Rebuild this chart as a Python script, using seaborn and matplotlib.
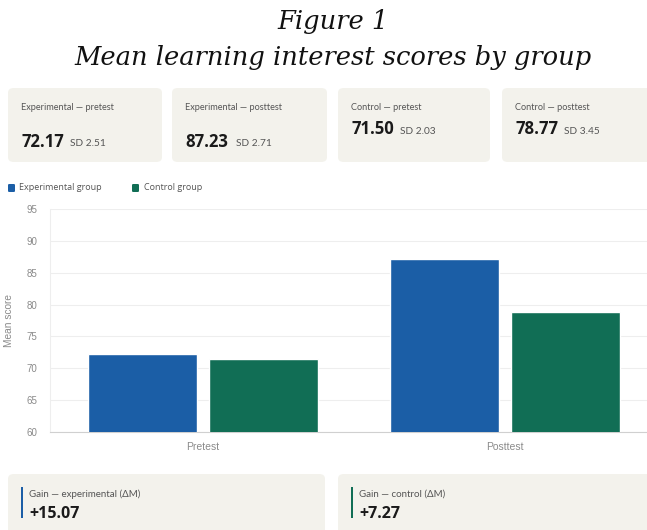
import matplotlib
matplotlib.use("Agg")
import matplotlib.pyplot as plt
from matplotlib.patches import FancyBboxPatch, Rectangle
import seaborn as sns
import pandas as pd

# ---- data ----
phases = ["Pretest", "Posttest"]
groups = ["Experimental group", "Control group"]
experimental_means = [72.17, 87.23]
control_means = [71.50, 78.77]
experimental_sd = [2.51, 2.71]
control_sd = [2.03, 3.45]
card_labels = ["Experimental — pretest", "Experimental — posttest",
               "Control — pretest", "Control — posttest"]
gain_labels = ["Gain — experimental (ΔM)", "Gain — control (ΔM)"]
gain_values = ["+15.07", "+7.27"]
y_ticks = [60, 65, 70, 75, 80, 85, 90, 95]

BLUE = "#1b5ea6"
GREEN = "#116e55"
CARD = "#f3f2ec"

sns.set_theme(style="white")
plt.rcParams["font.family"] = ["Open Sans", "DejaVu Sans"]

W, H = 647, 530
fig = plt.figure(figsize=(W / 100, H / 100), dpi=100)
fig.patch.set_facecolor("white")

def fx(x):
    return x / W

def fy(y):
    return 1 - y / H

def card(x0, y0, x1, y1, color=CARD):
    p = FancyBboxPatch((fx(x0), fy(y1)), fx(x1) - fx(x0), fy(y0) - fy(y1),
                       boxstyle="round,pad=0,rounding_size=0.009",
                       transform=fig.transFigure, facecolor=color,
                       edgecolor="none", zorder=0)
    fig.patches.append(p)

# ---- title ----
fig.text(fx(333), fy(21), "Figure 1", ha="center", va="center",
         family="DejaVu Serif", style="italic", fontsize=18.5, color="#111111")
fig.text(fx(333), fy(58), "Mean learning interest scores by group", ha="center",
         va="center", family="DejaVu Serif", style="italic", fontsize=18.5,
         color="#111111")

# ---- stat cards ----
card_x = [(8, 162), (172, 327), (338, 490), (502, 660)]
card_means = [experimental_means[0], experimental_means[1],
              control_means[0], control_means[1]]
card_sds = [experimental_sd[0], experimental_sd[1], control_sd[0], control_sd[1]]
value_y = [142, 142, 129, 129]
sd_x = [70, 236, 400, 564]
for i, (x0, x1) in enumerate(card_x):
    card(x0, 88, x1, 162)
    fig.text(fx(x0 + 13), fy(108), card_labels[i], ha="left", va="center",
             family=["Lato", "DejaVu Sans"], fontsize=6.6, color="#555555")
    fig.text(fx(x0 + 13), fy(value_y[i]), f"{card_means[i]:.2f}", ha="left",
             va="center", fontsize=12, fontweight="bold", color="#1a1a1a")
    fig.text(fx(sd_x[i]), fy(value_y[i] + 2), f"SD {card_sds[i]:.2f}", ha="left",
             va="center", family=["Lato", "DejaVu Sans"], fontsize=7.3,
             color="#555555")

# ---- legend ----
for (sx, tx, lab, col) in [(8, 19, groups[0], BLUE), (132, 144, groups[1], GREEN)]:
    fig.patches.append(FancyBboxPatch((fx(sx), fy(192)), fx(7), 8 / H,
                                      boxstyle="round,pad=0,rounding_size=0.002",
                                      transform=fig.transFigure, facecolor=col,
                                      edgecolor="none"))
    fig.text(fx(tx), fy(188), lab, ha="left", va="center", fontsize=6.5,
             color="#555555")

# ---- bar chart ----
df = pd.DataFrame({
    "phase": phases * 2,
    "group": [groups[0]] * 2 + [groups[1]] * 2,
    "score": experimental_means + control_means,
})
ax = fig.add_axes([fx(50), fy(432), fx(647) - fx(50), fy(209) - fy(432)])
sns.barplot(data=df, x="phase", y="score", hue="group", order=phases,
            hue_order=groups, palette=[BLUE, GREEN], width=0.8, gap=0.1,
            saturation=1, ax=ax, legend=False, zorder=3)
ax.set_ylim(60, 95)
ax.set_xlim(-0.507, 1.470)
ax.set_yticks(y_ticks)
ax.set_yticklabels([str(t) for t in y_ticks], family="Liberation Sans",
                   fontsize=7, color="#8a8a8a")
ax.set_xticklabels(phases, family="Liberation Sans", fontsize=7.5, color="#8a8a8a")
ax.tick_params(axis="y", length=0, pad=9)
ax.tick_params(axis="x", length=0, pad=7)
ax.set_xlabel("")
ax.set_ylabel("Mean score", family="Liberation Sans", fontsize=7.3,
              color="#8a8a8a", labelpad=9)
ax.grid(axis="y", color="#eeeeee", linewidth=0.8, zorder=0)
ax.set_axisbelow(True)
for s in ["top", "right"]:
    ax.spines[s].set_visible(False)
ax.spines["left"].set_color("#eeeeee")
ax.spines["bottom"].set_color("#d0d0d0")
ax.spines["left"].set_linewidth(0.8)
ax.spines["bottom"].set_linewidth(0.8)
ax.set_facecolor("white")

# ---- gain cards ----
gain_x = [(8, 325), (338, 660)]
gain_cols = [BLUE, GREEN]
for i, (x0, x1) in enumerate(gain_x):
    card(x0, 474, x1, 545)
    fig.patches.append(Rectangle((fx(x0 + 13), fy(518)), 2 / W, 31 / H,
                                 transform=fig.transFigure,
                                 facecolor=gain_cols[i], edgecolor="none"))
    fig.text(fx(x0 + 21), fy(494), gain_labels[i], ha="left", va="center",
             family=["Lato", "DejaVu Sans"], fontsize=7, color="#555555")
    fig.text(fx(x0 + 21), fy(514), gain_values[i], ha="left", va="center",
             fontsize=11.5, fontweight="bold", color="#1a1a1a")

fig.savefig("out.png", dpi=100)
